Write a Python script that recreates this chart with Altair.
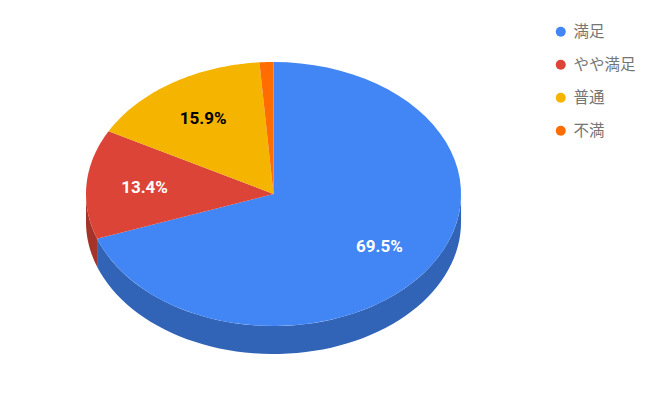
import altair as alt
import pandas as pd

categories = ["満足", "やや満足", "普通", "不満"]
values = [69.5, 13.4, 15.9, 1.2]
top_colors = ["#4285F4", "#DB4437", "#F4B400", "#FF6D00"]
side_colors = ["#3164B7", "#A4332A", "#B78700", "#BF5200"]

df = pd.DataFrame({"cat": categories, "value": values, "idx": list(range(len(categories)))})

N = 60          # vertices per arc
DEPTH = 0.212   # pie thickness in y units
LABEL_R = 0.69

W, H = 640, 390
xscale = alt.Scale(domain=[-1.416, 1.997], nice=False, zero=False)
yscale = alt.Scale(domain=[-1.545, 1.409], nice=False, zero=False)
X = lambda f: alt.X(f, type="quantitative", scale=xscale, axis=None)
Y = lambda f: alt.Y(f, type="quantitative", scale=yscale, axis=None)

base = alt.Chart(df).transform_window(
    cum="sum(value)", sort=[alt.SortField("idx")], frame=[None, 0]
).transform_joinaggregate(total="sum(value)").transform_calculate(
    a0="2*PI*(datum.cum - datum.value)/datum.total",
    a1="2*PI*datum.cum/datum.total",
)

# side walls (visible front half: angles PI/2 .. 3PI/2 clockwise from top)
side = base.transform_calculate(
    s0="max(datum.a0, PI/2)", s1="min(datum.a1, 3*PI/2)"
).transform_filter("datum.s1 > datum.s0").transform_calculate(
    step=f"sequence(0, {2 * N + 2})"
).transform_flatten(["step"]).transform_calculate(
    th=f"datum.step <= {N} ? datum.s0 + datum.step/{N}*(datum.s1-datum.s0) : datum.s1 - (datum.step-{N + 1})/{N}*(datum.s1-datum.s0)",
    px="sin(datum.th)",
    py=f"datum.step <= {N} ? cos(datum.th) : cos(datum.th) - {DEPTH}",
).mark_line(filled=True, strokeWidth=0.5).encode(
    x=X("px"), y=Y("py"),
    order=alt.Order("step:Q"),
    color=alt.Color("cat:N", scale=alt.Scale(domain=categories, range=side_colors), legend=None),
    detail="cat:N",
)

# top face slices
top = base.transform_calculate(
    step=f"sequence(0, {N + 2})"
).transform_flatten(["step"]).transform_calculate(
    th=f"datum.a0 + (datum.step-1)/{N}*(datum.a1-datum.a0)",
    px="datum.step == 0 ? 0 : sin(datum.th)",
    py="datum.step == 0 ? 0 : cos(datum.th)",
).mark_line(filled=True, strokeWidth=0.5).encode(
    x=X("px"), y=Y("py"),
    order=alt.Order("step:Q"),
    color=alt.Color(
        "cat:N",
        scale=alt.Scale(domain=categories, range=top_colors),
        sort=categories,
        legend=alt.Legend(
            title=None, orient="none", legendX=545, legendY=16,
            symbolType="circle", symbolSize=100, symbolStrokeWidth=0,
            labelFont="Noto Sans CJK JP", labelFontSize=15.5, labelColor="#757575",
            rowPadding=16, labelOffset=5, padding=0,
        ),
    ),
    detail="cat:N",
)

labels = base.transform_filter("datum.value > 5").transform_calculate(
    mid="(datum.a0 + datum.a1)/2",
    lx=f"{LABEL_R}*sin(datum.mid)",
    ly=f"{LABEL_R}*cos(datum.mid)",
    lab="format(datum.value, '.1f') + '%'",
).mark_text(font="Roboto", fontSize=17, fontWeight="bold", dy=1).encode(
    x=X("lx"), y=Y("ly"), text="lab:N",
    color=alt.condition(alt.datum.cat == "普通", alt.value("#000000"), alt.value("#ffffff")),
)

chart = alt.layer(side, top, labels).resolve_scale(color="independent").properties(
    width=W, height=H, padding=0
).configure_view(stroke=None)

chart.save("out.html", embed_options={"renderer": "svg", "actions": False})
